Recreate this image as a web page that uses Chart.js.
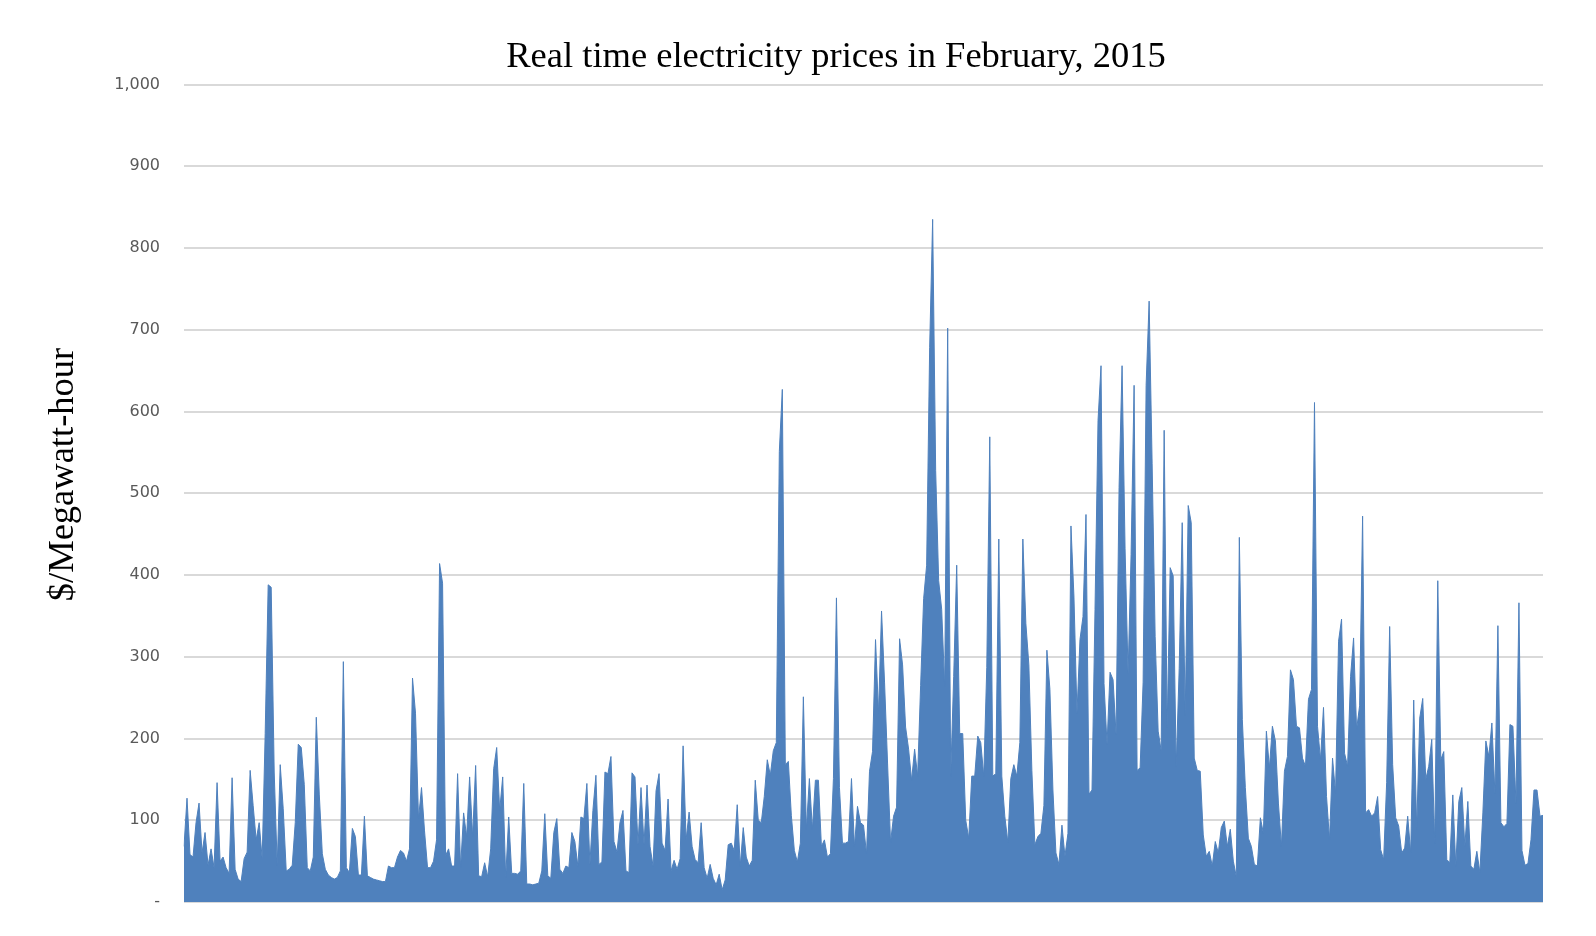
<!DOCTYPE html>
<html>
<head>
<meta charset="utf-8">
<title>Real time electricity prices in February, 2015</title>
<script src="https://cdn.jsdelivr.net/npm/chart.js@4.4.1/dist/chart.umd.min.js"></script>
<style>
  html, body { margin: 0; padding: 0; background: #fff; }
  #chart { display: block; }
</style>
</head>
<body>
<canvas id="chart" width="1596" height="936"></canvas>
<script>
// $/MWh, one value per ~1.5 hours
const pricesWeek1 = [68,127,58,55,97,121,60,85,45,65,42,146,50,55,42,35,152,40,28,25,53,61,161,118,76,97,53,206,388,385,159,45,168,114,38,40,45,97,193,189,144,42,38,55,226,131,59,40,33,30,28,30,38,294,42,
  36,90,80,33,33,105,32,30,28,27,26,25,25,44,42,42,55,63,60,50,65,274,231,102,140,87,42,42,50,76,414,390,57,65,44,44,157,42,109,80,153,80,167,32,31,48,31,65,163,189,112,153,30,104,35,35,34,
  38];
const pricesWeek2 = [145,22,22,21,22,23,38,108,32,29,85,102,40,35,44,42,85,74,44,104,102,145,46,112,155,46,49,159,157,178,74,61,97,112,38,36,158,153,70,140,70,143,68,44,136,157,72,63,126,38,51,40,53,191,76,
  110,68,52,48,97,42,29,46,29,21,34,15,27,70,72,63,119,44,91,55,44,51,149,100,97,129,174,155,185,195,551,627,168,172,106,63,49,72,251,89,151,89,149,149,68,76,55,59,151,372,140,72,72,74,151,68,117,
  97];
const pricesWeek3 = [94,59,160,184,321,231,356,269,170,73,105,116,322,290,214,187,149,187,154,265,371,412,678,835,528,393,358,263,702,154,276,412,206,206,100,78,154,154,203,195,154,287,569,154,157,444,154,105,73,151,168,154,195,444,341,290,
  161,70,80,84,118,308,260,137,60,46,94,56,84,460,373,231,321,349,474,132,137,358,589,656,267,193,281,272,205,507,656,432,279,425,632,161,164,269,632,735,536,325,209,185,577,214,409,399,166,286,464,228,485,464,176,161,
  160];
const pricesWeek4 = [82,56,62,44,74,60,91,99,68,89,50,31,446,223,140,78,68,46,44,103,84,209,164,215,197,121,68,160,178,284,272,215,213,176,166,248,260,611,215,174,238,129,76,176,133,319,346,182,166,276,323,211,240,472,109,113,
  105,109,129,64,52,146,337,168,103,93,60,66,105,60,247,89,225,249,150,166,199,72,393,174,184,52,48,131,44,123,140,68,123,44,40,62,36,109,197,178,219,133,338,97,92,96,217,215,121,366,63,45,47,76,137,137,105,106];

const prices = pricesWeek1.concat(pricesWeek2, pricesWeek3, pricesWeek4);
const labels = prices.map((_, i) => 'Feb ' + (Math.floor(i * 28 / prices.length) + 1));

const yMin = 0;
const yMax = 1000;
const yStep = 100;

const chartTitle = 'Real time electricity prices in February, 2015';
const yTitle = '$/Megawatt-hour';

// titles drawn by hand so they sit where the original has them
const titles = {
  id: 'titles',
  afterDraw(chart) {
    const ctx = chart.ctx;
    ctx.save();
    ctx.fillStyle = '#000';
    ctx.font = '36.5px "Liberation Serif", "Times New Roman", serif';
    ctx.textBaseline = 'alphabetic';
    ctx.textAlign = 'center';
    ctx.fillText(chartTitle, 836, 66.5);
    ctx.translate(73, 474.5);
    ctx.rotate(-Math.PI / 2);
    ctx.fillText(yTitle, 0, 0);
    ctx.restore();
  }
};

new Chart(document.getElementById('chart'), {
  type: 'line',
  data: {
    labels: labels,
    datasets: [{
      label: 'Price',
      data: prices,
      borderColor: '#4f81bd',
      backgroundColor: '#4f81bd',
      borderWidth: 1,
      pointRadius: 0,
      tension: 0,
      fill: 'origin'
    }]
  },
  options: {
    responsive: false,
    animation: false,
    devicePixelRatio: 1,
    layout: { padding: { left: 0, top: 84.5, right: 53, bottom: 34 } },
    plugins: {
      legend: { display: false },
      tooltip: { enabled: false }
    },
    scales: {
      x: { display: false, offset: false },
      y: {
        min: yMin,
        max: yMax,
        border: { display: false },
        grid: { color: '#d9d9d9', lineWidth: 2, drawTicks: false },
        ticks: {
          stepSize: yStep,
          padding: 24,
          color: '#595959',
          font: { family: 'DejaVu Sans', size: 16 },
          callback: v => v === 0 ? '-' : v.toLocaleString('en-US')
        },
        afterFit: s => { s.width = 184; }
      }
    }
  },
  plugins: [titles]
});
</script>
</body>
</html>
